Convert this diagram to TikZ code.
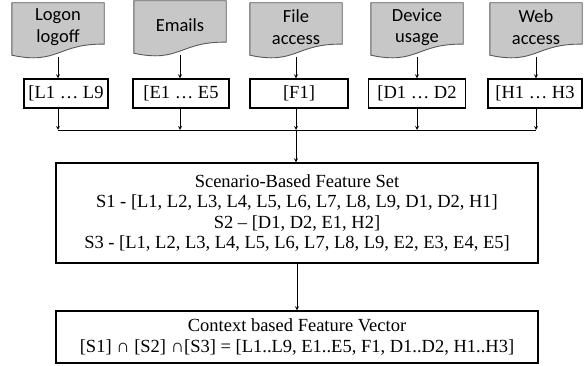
\documentclass[tikz,border=0pt]{standalone}
\usepackage{fontspec}
\setmainfont{Liberation Serif}
\newfontfamily\docfont{Carlito}
\usetikzlibrary{arrows,backgrounds}
\tikzstyle{doc}=[minimum width=92pt,minimum height=48pt,inner sep=0pt,align=center,font=\docfont\fontsize{18.5}{21.5}\selectfont]
\tikzstyle{docline}=[draw=black!65,fill=black!22,line width=0.9pt]
\tikzstyle{feat}=[rectangle,draw,line width=1.3pt,minimum height=29pt,fill=white,font=\fontsize{18.5}{20.5}\selectfont]
\tikzstyle{big}=[feat,minimum width=482pt,align=center]
\tikzstyle{link}=[->,>=stealth,line width=0.8pt]

\begin{document}
\begin{tikzpicture}[x=1pt,y=-1pt]
  \useasboundingbox (0,0) rectangle (584,366);
  \node at ( 58,27) [doc] (logon) {Logon\\logoff};
  \node at (180,25) [doc] (emails) {Emails};
  \node at (296,27) [doc] (file) {File\\access};
  \node at (417,27) [doc] (device) {Device\\usage};
  \node at (536,27) [doc] (web) {Web\\access};
  \node at ( 66,93.5) [feat,minimum width=84pt] (lbox) {[L1 … L9};
  \node at (181,93.5) [feat,minimum width=96pt] (ebox) {[E1 … E5};
  \node at (299,93.5) [feat,minimum width=98pt] (fbox) {[F1]};
  \node at (417,93.5) [feat,minimum width=97pt] (dbox) {[D1 … D2};
  \node at (535,93.5) [feat,minimum width=94pt] (hbox) {[H1 … H3};
  \coordinate (bus) at (58,130);
  \coordinate (busend) at (536,130);
  \node at (297,213) [big,minimum height=100pt] (scen)
    {Scenario-Based Feature Set\\
     S1 - [L1, L2, L3, L4, L5, L6, L7, L8, L9, D1, D2, H1]\\
     S2 – [D1, D2, E1, H2]\\
     S3 - [L1, L2, L3, L4, L5, L6, L7, L8, L9, E2, E3, E4, E5]};
  \node at (297,337) [big,minimum height=52pt] (ctx)
    {Context based Feature Vector\\
     {[S1]} ∩ [S2] ∩[S3] = [L1..L9, E1..E5, F1, D1..D2, H1..H3]};
  \foreach \d/\b in {logon/lbox,emails/ebox,file/fbox,device/dbox,web/hbox} {
    \draw [link,shorten <=6pt] (\d.south) to (\d.south |- \b.north);
    \draw [link] (\d.south |- \b.south) to (\d.south |- bus);
  }
  \draw [line width=0.8pt] (bus) to (busend);
  \draw [link] (file.south |- bus) to (file.south |- scen.north);
  \draw [link] (scen.south) to (ctx.north);
  \begin{pgfonlayer}{background}
    \foreach \d in {logon,emails,file,device,web}
      \filldraw [docline] (\d.north west) -- (\d.north east)
        -- ([yshift=7pt]\d.south east)
        .. controls ([yshift=8pt]\d.south) and ([yshift=-14pt]\d.south)
        .. ([yshift=-4pt]\d.south west) -- cycle;
  \end{pgfonlayer}
\end{tikzpicture}
\end{document}
